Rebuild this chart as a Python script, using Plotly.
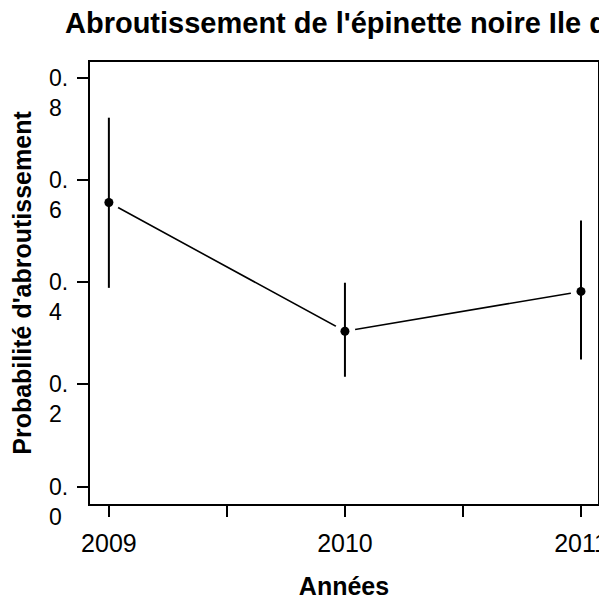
import plotly.graph_objects as go

years = [2009, 2010, 2011]
prob = [0.556, 0.304, 0.382]
upper = [0.722, 0.399, 0.521]
lower = [0.389, 0.215, 0.249]

xtick_vals = [2009, 2009.5, 2010, 2010.5, 2011]
xtick_text = ["2009", "", "2010", "", "2011"]
ytick_vals = [0.0, 0.2, 0.4, 0.6, 0.8]
ytick_text = ["0.<br>0", "0.<br>2", "0.<br>4", "0.<br>6", "0.<br>8"]

title_text = "Abroutissement de l'épinette noire Ile d"
xlabel = "Années"
ylabel = "Probabilité d'abroutissement"

FONT = "Arial, Liberation Sans, sans-serif"

# page body has an 8px margin, so the figure is sized to fit the window
W, H = 599, 592
ML, MR, MT, MB = 82, 9, 54, 96
PW = W - ML - MR
PH = H - MT - MB

fig = go.Figure()

# connecting line
fig.add_trace(go.Scatter(x=years, y=prob, mode="lines",
                         line=dict(color="black", width=1.6),
                         showlegend=False, hoverinfo="skip"))
# white mask around points (type="b" gap)
fig.add_trace(go.Scatter(x=years, y=prob, mode="markers",
                         marker=dict(color="white", size=21, line=dict(width=0)),
                         showlegend=False, hoverinfo="skip"))
# error bars + points
fig.add_trace(go.Scatter(
    x=years, y=prob, mode="markers",
    marker=dict(color="black", size=9),
    error_y=dict(type="data", symmetric=False,
                 array=[u - p for u, p in zip(upper, prob)],
                 arrayminus=[p - l for p, l in zip(prob, lower)],
                 color="black", thickness=2, width=0),
    showlegend=False))

# y tick labels (wrapped, first line at tick)
for v, t in zip(ytick_vals, ytick_text):
    fig.add_annotation(x=(39 - ML) / PW, xref="paper", xanchor="left",
                       y=v, yref="y", yanchor="middle", yshift=-15,
                       text=t, showarrow=False, align="left",
                       font=dict(family=FONT, size=23, color="black"))

fig.add_annotation(x=(55 - ML) / PW, xref="paper", xanchor="left",
                   y=(H - MB - 15) / PH, yref="paper", yanchor="middle",
                   text="<b>" + title_text + "</b>", showarrow=False,
                   font=dict(family=FONT, size=29, color="black"))

fig.update_layout(
    width=W, height=H,
    margin=dict(l=ML, r=MR, t=MT, b=MB, pad=0, autoexpand=False),
    paper_bgcolor="white", plot_bgcolor="white",
    font=dict(family=FONT, color="black"),
    xaxis=dict(range=[2008.92, 2011.072], tickvals=xtick_vals, ticktext=xtick_text,
               automargin=False, ticklabeloverflow="allow",
               ticks="outside", ticklen=11, tickwidth=2, tickcolor="black",
               ticklabelstandoff=5,
               showline=True, linecolor="black", linewidth=2, mirror=True,
               showgrid=False, zeroline=False,
               tickfont=dict(family=FONT, size=25, color="black"),
               title=dict(text="<b>" + xlabel + "</b>", standoff=21,
                          font=dict(family=FONT, size=25, color="black"))),
    yaxis=dict(range=[-0.034, 0.831], tickvals=ytick_vals, showticklabels=False,
               automargin=False,
               ticks="outside", ticklen=11, tickwidth=2, tickcolor="black",
               showline=True, linecolor="black", linewidth=2, mirror=True,
               showgrid=False, zeroline=False,
               title=dict(text="<b>" + ylabel + "</b>", standoff=46,
                          font=dict(family=FONT, size=25, color="black"))),
)

fig.write_html("out.html")
